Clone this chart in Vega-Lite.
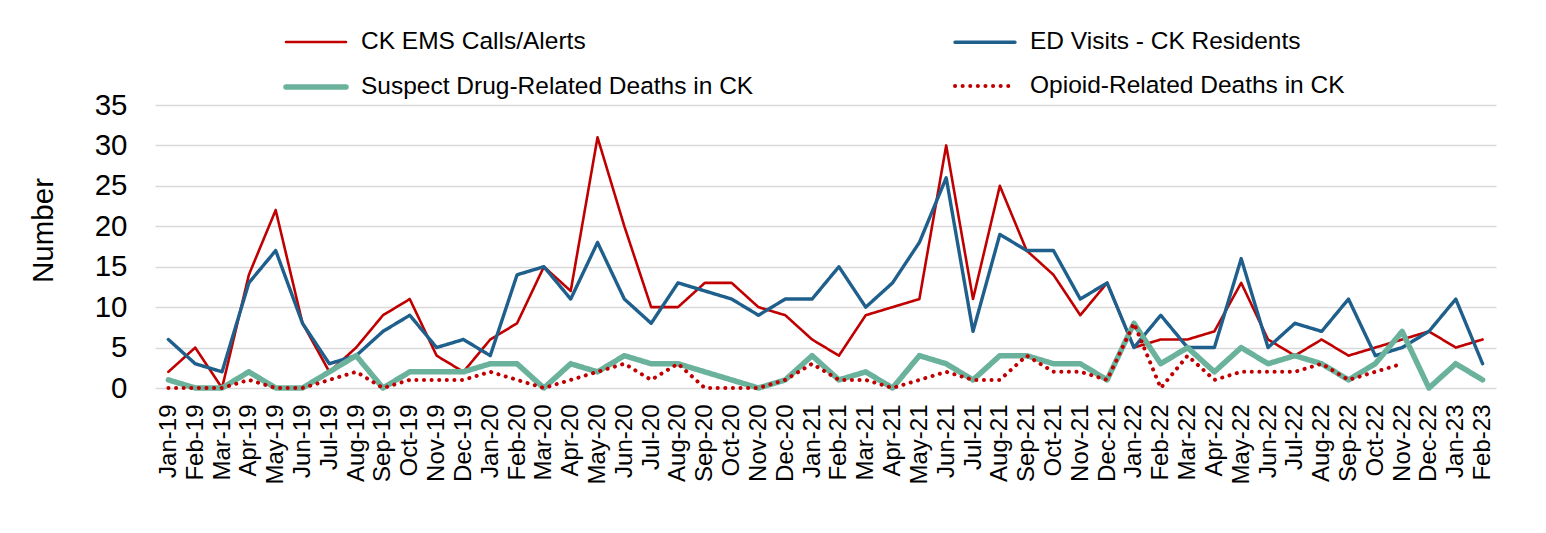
{
  "$schema": "https://vega.github.io/schema/vega-lite/v6.json",
  "width": 1341,
  "height": 283,
  "autosize": {"type": "none"},
  "padding": {"left": 155, "top": 105, "right": 50, "bottom": 145},
  "background": "white",
  "config": {"view": {"stroke": null}, "font": "Liberation Sans"},
  "data": {"values": [
    {"m": "Jan-19", "ems": 2, "ed": 6, "sus": 1, "op": 0},
    {"m": "Feb-19", "ems": 5, "ed": 3, "sus": 0, "op": 0},
    {"m": "Mar-19", "ems": 0, "ed": 2, "sus": 0, "op": 0},
    {"m": "Apr-19", "ems": 14, "ed": 13, "sus": 2, "op": 1},
    {"m": "May-19", "ems": 22, "ed": 17, "sus": 0, "op": 0},
    {"m": "Jun-19", "ems": 8, "ed": 8, "sus": 0, "op": 0},
    {"m": "Jul-19", "ems": 2, "ed": 3, "sus": 2, "op": 1},
    {"m": "Aug-19", "ems": 5, "ed": 4, "sus": 4, "op": 2},
    {"m": "Sep-19", "ems": 9, "ed": 7, "sus": 0, "op": 0},
    {"m": "Oct-19", "ems": 11, "ed": 9, "sus": 2, "op": 1},
    {"m": "Nov-19", "ems": 4, "ed": 5, "sus": 2, "op": 1},
    {"m": "Dec-19", "ems": 2, "ed": 6, "sus": 2, "op": 1},
    {"m": "Jan-20", "ems": 6, "ed": 4, "sus": 3, "op": 2},
    {"m": "Feb-20", "ems": 8, "ed": 14, "sus": 3, "op": 1},
    {"m": "Mar-20", "ems": 15, "ed": 15, "sus": 0, "op": 0},
    {"m": "Apr-20", "ems": 12, "ed": 11, "sus": 3, "op": 1},
    {"m": "May-20", "ems": 31, "ed": 18, "sus": 2, "op": 2},
    {"m": "Jun-20", "ems": 20, "ed": 11, "sus": 4, "op": 3},
    {"m": "Jul-20", "ems": 10, "ed": 8, "sus": 3, "op": 1},
    {"m": "Aug-20", "ems": 10, "ed": 13, "sus": 3, "op": 3},
    {"m": "Sep-20", "ems": 13, "ed": 12, "sus": 2, "op": 0},
    {"m": "Oct-20", "ems": 13, "ed": 11, "sus": 1, "op": 0},
    {"m": "Nov-20", "ems": 10, "ed": 9, "sus": 0, "op": 0},
    {"m": "Dec-20", "ems": 9, "ed": 11, "sus": 1, "op": 1},
    {"m": "Jan-21", "ems": 6, "ed": 11, "sus": 4, "op": 3},
    {"m": "Feb-21", "ems": 4, "ed": 15, "sus": 1, "op": 1},
    {"m": "Mar-21", "ems": 9, "ed": 10, "sus": 2, "op": 1},
    {"m": "Apr-21", "ems": 10, "ed": 13, "sus": 0, "op": 0},
    {"m": "May-21", "ems": 11, "ed": 18, "sus": 4, "op": 1},
    {"m": "Jun-21", "ems": 30, "ed": 26, "sus": 3, "op": 2},
    {"m": "Jul-21", "ems": 11, "ed": 7, "sus": 1, "op": 1},
    {"m": "Aug-21", "ems": 25, "ed": 19, "sus": 4, "op": 1},
    {"m": "Sep-21", "ems": 17, "ed": 17, "sus": 4, "op": 4},
    {"m": "Oct-21", "ems": 14, "ed": 17, "sus": 3, "op": 2},
    {"m": "Nov-21", "ems": 9, "ed": 11, "sus": 3, "op": 2},
    {"m": "Dec-21", "ems": 13, "ed": 13, "sus": 1, "op": 1},
    {"m": "Jan-22", "ems": 5, "ed": 5, "sus": 8, "op": 8},
    {"m": "Feb-22", "ems": 6, "ed": 9, "sus": 3, "op": 0},
    {"m": "Mar-22", "ems": 6, "ed": 5, "sus": 5, "op": 4},
    {"m": "Apr-22", "ems": 7, "ed": 5, "sus": 2, "op": 1},
    {"m": "May-22", "ems": 13, "ed": 16, "sus": 5, "op": 2},
    {"m": "Jun-22", "ems": 6, "ed": 5, "sus": 3, "op": 2},
    {"m": "Jul-22", "ems": 4, "ed": 8, "sus": 4, "op": 2},
    {"m": "Aug-22", "ems": 6, "ed": 7, "sus": 3, "op": 3},
    {"m": "Sep-22", "ems": 4, "ed": 11, "sus": 1, "op": 1},
    {"m": "Oct-22", "ems": 5, "ed": 4, "sus": 3, "op": 2},
    {"m": "Nov-22", "ems": 6, "ed": 5, "sus": 7, "op": 3},
    {"m": "Dec-22", "ems": 7, "ed": 7, "sus": 0, "op": null},
    {"m": "Jan-23", "ems": 5, "ed": 11, "sus": 3, "op": null},
    {"m": "Feb-23", "ems": 6, "ed": 3, "sus": 1, "op": null}
  ]},
  "transform": [{"fold": ["ems", "ed", "sus", "op"], "as": ["series", "value"]}],
  "mark": {"type": "line", "strokeJoin": "round", "strokeCap": "round"},
  "encoding": {
    "x": {
      "field": "m", "type": "ordinal", "sort": null,
      "scale": {"type": "point", "padding": 0.5},
      "axis": {"title": null, "labelAngle": -90, "labelFontSize": 24, "labelColor": "#000", "ticks": false, "domain": false, "labelPadding": 16, "labelAlign": "right", "labelBaseline": "middle", "grid": false}
    },
    "y": {
      "field": "value", "type": "quantitative",
      "scale": {"domain": [0, 35]},
      "axis": {"values": [0, 5, 10, 15, 20, 25, 30, 35], "title": "Number", "titleFontSize": 29.5, "titleFontWeight": "normal", "titleColor": "#000", "titlePadding": 36, "titleY": 125, "labelFontSize": 29.5, "labelColor": "#000", "ticks": false, "domain": false, "labelPadding": 28, "gridColor": "#d9d9d9", "gridWidth": 1.5}
    },
    "color": {
      "field": "series", "type": "nominal",
      "scale": {"domain": ["ems", "sus", "ed", "op"], "range": ["#C00000", "#6AB29C", "#1F5F8C", "#C00000"]},
      "legend": {
        "title": null, "orient": "none", "legendX": 128, "legendY": -95,
        "columns": 2, "columnPadding": 193, "rowPadding": -31,
        "symbolType": "stroke", "symbolSize": 3600, "labelFontSize": 24.5, "labelColor": "#000", "labelOffset": 12, "labelLimit": 0,
        "labelExpr": "{'ems': 'CK EMS Calls/Alerts', 'ed': 'ED Visits - CK Residents', 'sus': 'Suspect Drug-Related Deaths in CK', 'op': 'Opioid-Related Deaths in CK'}[datum.label]",
        "encode": {"symbols": {"update": {"strokeCap": {"value": "round"}}}}
      }
    },
    "strokeDash": {
      "field": "series", "type": "nominal",
      "scale": {"domain": ["ems", "sus", "ed", "op"], "range": [[1, 0], [1, 0], [1, 0], [0.1, 7.5]]}
    },
    "strokeWidth": {
      "field": "series", "type": "nominal",
      "scale": {"type": "ordinal", "domain": ["ems", "sus", "ed", "op"], "range": [2.6, 5.5, 3.4, 4]}
    }
  }
}
